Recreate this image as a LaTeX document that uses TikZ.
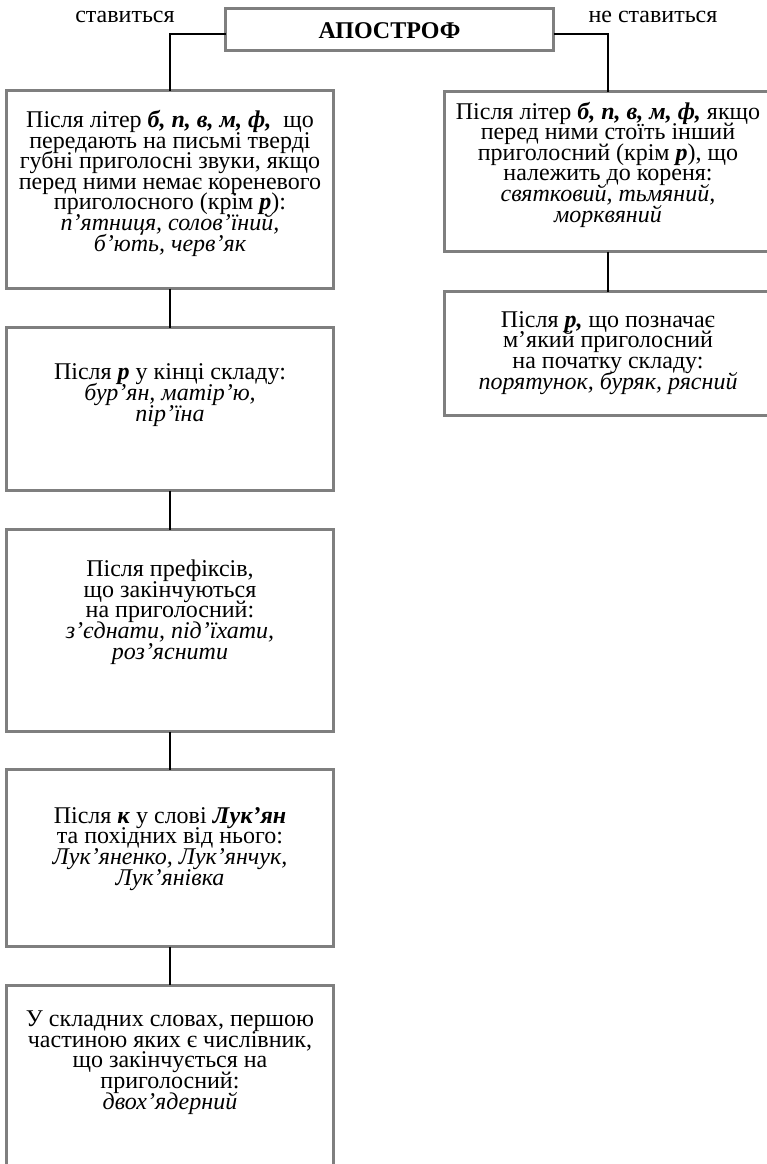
\documentclass[tikz,border=0pt]{standalone}
\usepackage{fontspec}
\setmainfont{Liberation Serif}
\lineskiplimit=-50pt
\definecolor{boxgray}{HTML}{7F7F7F}
\tikzset{
  px/.style={x=0.75pt, y=-0.75pt},
  box/.style={draw=boxgray, line width=2.25pt, rectangle, inner sep=0pt, outer sep=0pt},
  colbox/.style={box, minimum width=245.25pt},
  txt/.style={align=center, inner sep=0pt, anchor=base,
    font=\fontsize{18pt}{15.4pt}\selectfont},
  link/.style={draw=black, line width=1pt}
}
\newcommand{\bi}[1]{\textbf{\textit{#1}}}
\begin{document}
\begin{tikzpicture}[px]
\useasboundingbox[fill=white] (0,0) rectangle (767,1164);

% heading and branch labels (text nodes are placed by the baseline of their last line)
\node[box, minimum width=246pt, minimum height=31.5pt] (title) at (389.5,29.5) {};
\node[txt] (titletext) at (389.5,38) {\textbf{АПОСТРОФ}};
\node[txt] (yes) at (125,22) {ставиться};
\node[txt] (no) at (653,22) {не ставиться};

% left column: the apostrophe is written
\node[colbox, minimum height=148.5pt] (L1) at (170,189.5) {};
\node[txt] (L1t) at (170,251) {Після літер \bi{б, п, в, м, ф,}\ \ що\\
  передають на письмі тверді\\
  губні приголосні звуки, якщо\\
  перед ними немає кореневого\\
  приголосного (крім \bi{р}):\\
  \textit{п’ятниця, солов’їний,}\\
  \textit{б’ють, черв’як}};

\node[colbox, minimum height=122.25pt] (L2) at (170,409) {};
\node[txt] (L2t) at (170,421) {Після \bi{р} у кінці складу:\\
  \textit{бур’ян, матір’ю,}\\
  \textit{пір’їна}};

\node[colbox, minimum height=151.5pt] (L3) at (170,630.5) {};
\node[txt] (L3t) at (170,659) {Після префіксів,\\
  що закінчуються\\
  на приголосний:\\
  \textit{з’єднати, під’їхати,}\\
  \textit{роз’яснити}};

\node[colbox, minimum height=132.75pt] (L4) at (170,858) {};
\node[txt] (L4t) at (170,885) {Після \bi{к} у слові \bi{Лук’ян}\\
  та похідних від нього:\\
  \textit{Лук’яненко, Лук’янчук,}\\
  \textit{Лук’янівка}};

\node[colbox, minimum height=141.75pt] (L5) at (170,1079.5) {};
\node[txt] (L5t) at (170,1109) {У складних словах, першою\\
  частиною яких є числівник,\\
  що закінчується на\\
  приголосний:\\
  \textit{двох’ядерний}};

% right column: the apostrophe is not written
\node[colbox, minimum height=120pt] (R1) at (608,171.5) {};
\node[txt] (R1t) at (608,222) {Після літер \bi{б, п, в, м, ф,} якщо\\
  перед ними стоїть інший\\
  приголосний (крім \bi{р}), що\\
  належить до кореня:\\
  \textit{святковий, тьмяний,}\\
  \textit{морквяний}};

\node[colbox, minimum height=93pt] (R2) at (608,353.5) {};
\node[txt] (R2t) at (608,389) {Після \bi{р,} що позначає\\
  м’який приголосний\\
  на початку складу:\\
  \textit{порятунок, буряк, рясний}};

% connectors
\draw[link] ([yshift=-3.4pt]title.west) -| (L1.north);
\draw[link] ([yshift=-3.4pt]title.east) -| (R1.north);
\draw[link] (L1) -- (L2);
\draw[link] (L2) -- (L3);
\draw[link] (L3) -- (L4);
\draw[link] (L4) -- (L5);
\draw[link] (R1) -- (R2);
\end{tikzpicture}
\end{document}
